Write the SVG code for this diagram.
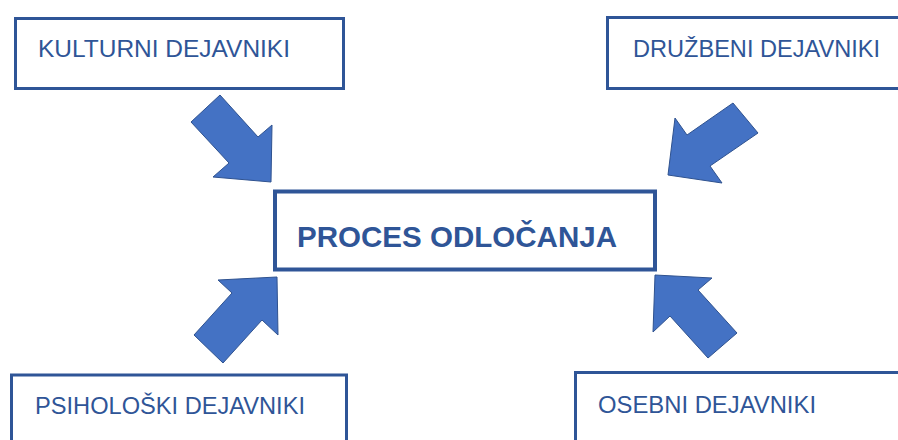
<svg xmlns="http://www.w3.org/2000/svg" width="898" height="440" viewBox="0 0 898 440">
<style>
.box{fill:#fff;stroke:#2F5597;stroke-width:3}
.main{fill:#fff;stroke:#2F5597;stroke-width:4}
.lbl{font-family:"Liberation Sans",Arial,sans-serif;font-size:24px;fill:#2F5597}
.title{font-family:"Liberation Sans",Arial,sans-serif;font-size:30px;font-weight:bold;fill:#2F5597}
.arr{fill:#4472C4;stroke:#2F528F;stroke-width:1;stroke-linejoin:miter}
</style>
<rect width="898" height="440" fill="#fff"/>
<g id="connectors">
<polygon class="arr" points="220,95 258,137 272,125 271,182 213,177 229,163 191,122"/>
<polygon class="arr" points="733,103 687,135 675,118 668,175 722,183 710,166 758,133"/>
<polygon class="arr" points="194,335 232,293 218,280 277,277 278,335 262,320 223,363"/>
<polygon class="arr" points="737,333 698,290 712,278 655,275 653,332 670,316 708,358"/>
</g>
<g id="kulturni">
<rect class="box" x="15.5" y="18.5" width="328" height="70"/>
<text class="lbl" x="38" y="57" textLength="252" lengthAdjust="spacingAndGlyphs">KULTURNI DEJAVNIKI</text>
</g>
<g id="druzbeni">
<rect class="box" x="607.5" y="17.5" width="300" height="71"/>
<text class="lbl" x="633" y="57" textLength="247" lengthAdjust="spacingAndGlyphs">DRUŽBENI DEJAVNIKI</text>
</g>
<g id="proces">
<rect class="main" x="275" y="191.5" width="380" height="78"/>
<text class="title" x="297" y="247" textLength="320" lengthAdjust="spacingAndGlyphs">PROCES ODLOČANJA</text>
</g>
<g id="psiholoski">
<rect class="box" x="11.5" y="375" width="335" height="80"/>
<text class="lbl" x="35" y="414" textLength="270" lengthAdjust="spacingAndGlyphs">PSIHOLOŠKI DEJAVNIKI</text>
</g>
<g id="osebni">
<rect class="box" x="575.5" y="372.5" width="340" height="80"/>
<text class="lbl" x="598" y="413" textLength="218" lengthAdjust="spacingAndGlyphs">OSEBNI DEJAVNIKI</text>
</g>
</svg>
